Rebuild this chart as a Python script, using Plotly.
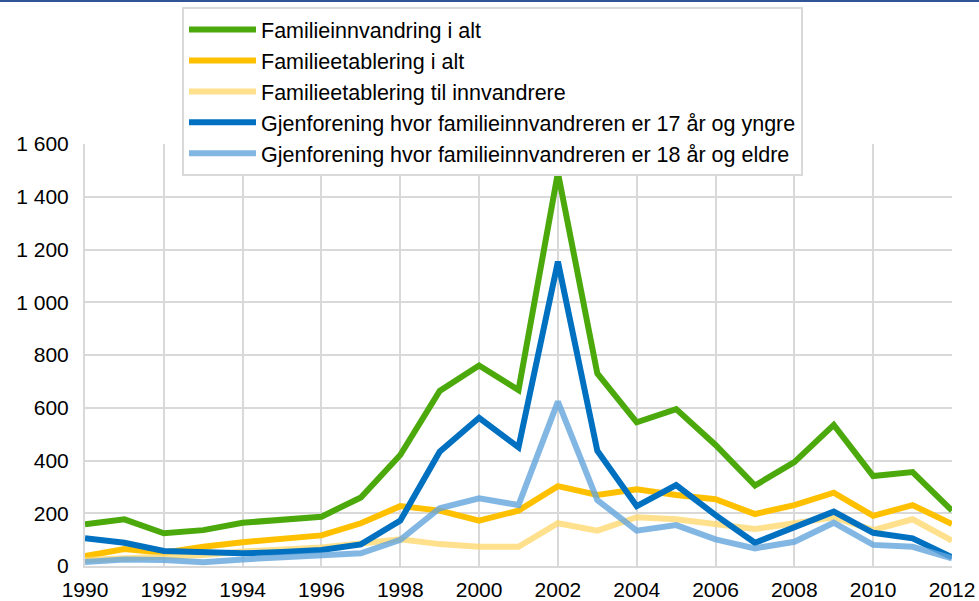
import plotly.graph_objects as go

years = list(range(1990, 2013))

familieinnvandring = [158, 177, 124, 136, 164, 178, 187, 260, 421, 664, 760, 667, 1491, 730, 545, 595, 459, 305, 394, 535, 341, 356, 210]
familieetablering = [38, 64, 50, 73, 90, 105, 116, 162, 227, 210, 172, 210, 303, 269, 291, 269, 253, 197, 231, 278, 190, 231, 159]
etablering_innvandrere = [23, 29, 33, 42, 55, 62, 70, 85, 101, 83, 73, 73, 162, 134, 185, 177, 159, 140, 162, 185, 136, 177, 96]
gjenforening_17 = [105, 88, 57, 53, 48, 53, 61, 82, 172, 433, 562, 450, 1154, 437, 227, 307, 193, 88, 148, 206, 126, 105, 33]
gjenforening_18 = [15, 25, 23, 14, 25, 31, 38, 48, 99, 219, 257, 231, 623, 250, 134, 155, 101, 67, 92, 164, 80, 73, 29]

names = [
    "Familieinnvandring i alt",
    "Familieetablering i alt",
    "Familieetablering til innvandrere",
    "Gjenforening hvor familieinnvandreren er 17 år og yngre",
    "Gjenforening hvor familieinnvandreren er 18 år og eldre",
]
series = [familieinnvandring, familieetablering, etablering_innvandrere, gjenforening_17, gjenforening_18]
colors = ["#4ca90c", "#ffc000", "rgba(255,214,102,0.75)", "#0070c0", "rgba(100,165,220,0.8)"]

x_ticks = list(range(1990, 2013, 2))
y_ticks = [0, 200, 400, 600, 800, 1000, 1200, 1400, 1600]
y_tick_labels = ["0", "200", "400", "600", "800", "1 000", "1 200", "1 400", "1 600"]

fig = go.Figure()
for name, vals, col in zip(names, series, colors):
    fig.add_trace(go.Scatter(x=years, y=vals, name=name, mode="lines",
                             line=dict(color=col, width=6)))

font_family = "Liberation Sans, Arial, sans-serif"
L, R, T, B = 85, 27, 144, 35
W, H = 979, 601
pw, ph = W - L - R, H - T - B

fig.update_layout(
    width=W, height=H,
    margin=dict(l=L, r=R, t=T, b=B, autoexpand=False),
    paper_bgcolor="white", plot_bgcolor="white",
    font=dict(family=font_family, size=21, color="#000000"),
    showlegend=True,
    legend=dict(
        x=(182 - L) / pw, y=(H - B - 7) / ph, xanchor="left", yanchor="top",
        bgcolor="white", bordercolor="#d9d9d9", borderwidth=2,
        font=dict(family=font_family, size=21.5, color="#000000"),
        tracegroupgap=0, itemwidth=67,
    ),
    xaxis=dict(
        range=[1990, 2012], tickvals=x_ticks, ticktext=[str(v) for v in x_ticks],
        showgrid=True, gridcolor="#d9d9d9", gridwidth=2,
        showline=True, linecolor="#d9d9d9", linewidth=2,
        zeroline=False, ticks="", tickfont=dict(size=21), automargin=False,
        ticklabelstandoff=4,
    ),
    yaxis=dict(
        range=[0, 1600], tickvals=y_ticks, ticktext=y_tick_labels,
        showgrid=True, gridcolor="#d9d9d9", gridwidth=2,
        showline=True, linecolor="#d9d9d9", linewidth=2,
        zeroline=False, ticks="", tickfont=dict(size=21), automargin=False,
        ticklabelstandoff=10,
    ),
    shapes=[dict(type="line", xref="paper", yref="paper",
                 x0=-L / pw, x1=(W - L) / pw, y0=(H - B - 1) / ph, y1=(H - B - 1) / ph,
                 line=dict(color="#2f5597", width=2))],
)

fig.write_html("out.html", config={"displayModeBar": False},
               post_script="document.body.style.margin='0px';document.body.style.overflow='hidden';")
